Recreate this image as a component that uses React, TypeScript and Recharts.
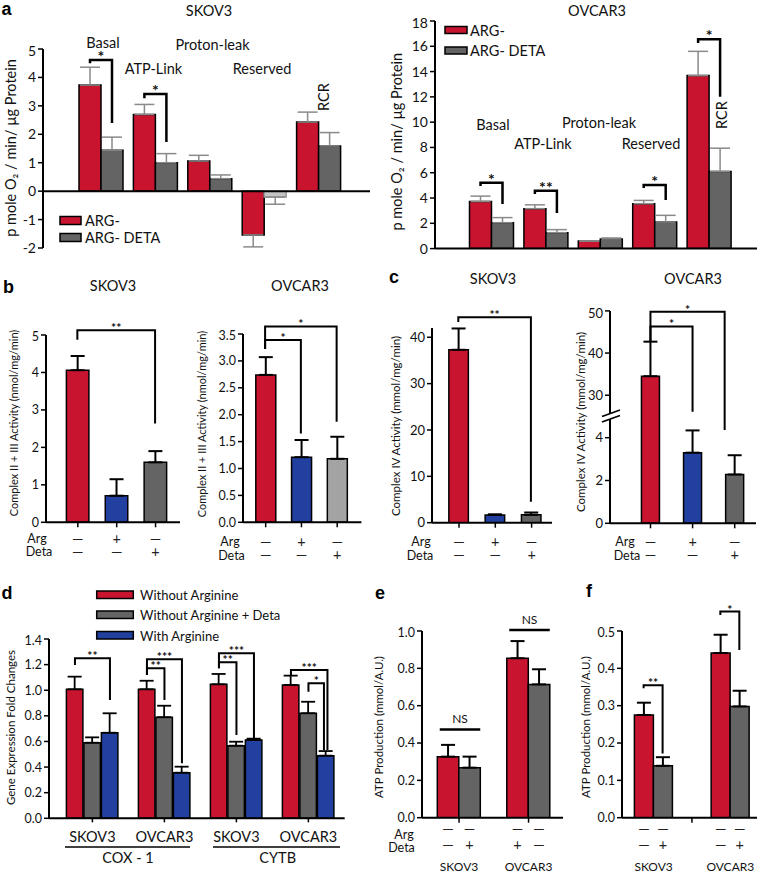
import React from 'react';
import { BarChart, Bar, XAxis, YAxis, ErrorBar, ReferenceLine, Cell } from 'recharts';

const FONT = 'Lato, "Open Sans", sans-serif';
const RED = '#C8142F';
const GRAY = '#646464';
const LIGHT = '#A3A3A3';
const BLUE = '#2140A0';
const INK = '#111';

// a: oxygen consumption rates
const aCategories = ['Basal', 'ATP-Link', 'Proton-leak', 'Reserved', 'RCR'];
const aSkovArg = [3.73, 2.7, 1.06, -1.54, 2.43];
const aSkovArgErr = [0.63, 0.35, 0.2, 0.42, 0.35];
const aSkovDeta = [1.44, 1.0, 0.44, -0.21, 1.59];
const aSkovDetaErr = [0.46, 0.32, 0.13, 0.25, 0.47];
const aOvcarArg = [3.73, 3.16, 0.6, 3.55, 13.68];
const aOvcarArgErr = [0.42, 0.3, 0, 0.26, 1.92];
const aOvcarDeta = [2.05, 1.26, 0.76, 2.1, 6.1];
const aOvcarDetaErr = [0.4, 0.24, 0.08, 0.53, 1.84];

// b, c: complex activities (Arg-, Arg+, Deta+)
const treatments = ['Arg-', 'Arg+', 'Deta'];
const argSigns = ['—', '+', '—'];
const detaSigns = ['—', '—', '+'];
const bSkov = [4.06, 0.71, 1.6];
const bSkovErr = [0.38, 0.44, 0.3];
const bOvcar = [2.74, 1.21, 1.18];
const bOvcarErr = [0.33, 0.32, 0.41];
const cSkov = [37.3, 1.66, 1.7];
const cSkovErr = [4.6, 0.15, 0.5];
const cOvcar = [34.5, 3.3, 2.28];
const cOvcarErr = [8.2, 1.04, 0.9];
const cOvcarTicks = [0, 2, 4, 30, 40, 50];

// d: gene expression
const dCategories = ['SKOV3', 'OVCAR3', 'SKOV3', 'OVCAR3'];
const dWithout = [1.007, 1.007, 1.046, 1.041];
const dWithoutErr = [0.099, 0.067, 0.081, 0.073];
const dDeta = [0.59, 0.789, 0.567, 0.82];
const dDetaErr = [0.042, 0.09, 0.031, 0.09];
const dWith = [0.668, 0.356, 0.611, 0.489];
const dWithErr = [0.152, 0.047, 0.011, 0.036];

// e: ATP production
const eCategories = ['SKOV3', 'OVCAR3'];
const eFirst = [0.327, 0.854];
const eFirstErr = [0.063, 0.092];
const eSecond = [0.268, 0.714];
const eSecondErr = [0.059, 0.081];
const eArgRow = [['—', '—'], ['—', '—']];
const eDetaRow = [['—', '+'], ['+', '—']];

// f: ATP production
const fCategories = ['SKOV3', '', 'OVCAR3'];
const fFirst = [0.275, null, 0.441];
const fFirstErr = [0.033, null, 0.049];
const fSecond = [0.139, null, 0.298];
const fSecondErr = [0.023, null, 0.042];
const fArgRow = [['—', '—'], [], ['—', '—']];
const fDetaRow = [['—', '+'], [], ['—', '+']];

type Geo = {
  x0: number; x1: number; padL: number; padR: number; min: number; max: number;
  top: number; bot: number; n: number; bars: number; barSize: number; barGap: number; xh: number; yw: number;
};

const MT = 6;
const gAL: Geo = { x0: 43, x1: 370, padL: 31, padR: 24, min: -2, max: 5, top: 49, bot: 248, n: 5, bars: 2, barSize: 22, barGap: 0, xh: 12, yw: 30 };
const gAR: Geo = { x0: 435, x1: 757, padL: 29.5, padR: 20.5, min: 0, max: 18, top: 20.7, bot: 248.3, n: 5, bars: 2, barSize: 22, barGap: 0, xh: 12, yw: 30 };
const gBL: Geo = { x0: 45.7, x1: 180, padL: 12.4, padR: 5.3, min: 0, max: 5, top: 335, bot: 522.3, n: 3, bars: 1, barSize: 22.5, barGap: 0, xh: 45, yw: 30 };
const gBR: Geo = { x0: 243.3, x1: 361.7, padL: 4.8, padR: 6.3, min: 0, max: 3.5, top: 334, bot: 522.3, n: 3, bars: 1, barSize: 20, barGap: 0, xh: 45, yw: 30 };
const gCL: Geo = { x0: 431.7, x1: 551.7, padL: 8.85, padR: 2.25, min: 0, max: 42, top: 328, bot: 522.7, n: 3, bars: 1, barSize: 19.5, barGap: 0, xh: 45, yw: 30 };
const gCR: Geo = { x0: 610, x1: 756, padL: 19.45, padR: 0.25, min: 0, max: 9.92, top: 311, bot: 523.3, n: 3, bars: 1, barSize: 18, barGap: 0, xh: 45, yw: 30 };
const gD: Geo = { x0: 49.3, x1: 345, padL: 7.4, padR: 0.3, min: 0, max: 1.4, top: 639, bot: 818.3, n: 4, bars: 3, barSize: 16.5, barGap: 1, xh: 25, yw: 30 };
const gE: Geo = { x0: 421.7, x1: 563, padL: 2.3, padR: 0, min: 0, max: 1, top: 631, bot: 817.7, n: 2, bars: 2, barSize: 21.5, barGap: 0, xh: 60, yw: 30 };
const gF: Geo = { x0: 621.7, x1: 756.7, padL: 12.4, padR: 7.5, min: 0, max: 0.5, top: 631, bot: 817.7, n: 3, bars: 2, barSize: 19, barGap: 0, xh: 60, yw: 30 };

const band = (g: Geo) => (g.x1 - g.x0 - g.padL - g.padR) / g.n;
const barCx = (g: Geo, i: number, j: number) => {
  const b = band(g);
  const sum = g.bars * g.barSize + (g.bars - 1) * g.barGap;
  const off = Math.trunc((b - sum) / 2);
  return g.x0 + g.padL + i * b + off + j * (g.barSize + g.barGap) + g.barSize / 2;
};
const yPx = (g: Geo, v: number) => g.bot - ((v - g.min) / (g.max - g.min)) * (g.bot - g.top);
const boxLeft = (g: Geo) => g.x0 - g.yw;

// broken axis of c / OVCAR3: 0-5 linear, 25-50 compressed
const brk = (v: number) => (v <= 5 ? v : 5 + (v - 25) * 0.197);

const up = (v: number | null, e: number | null) => (v == null || e == null ? undefined : v < 0 ? [e, 0] : [0, e]);

const aSkovData = aCategories.map((name, i) => ({
  name, v0: aSkovArg[i], e0: up(aSkovArg[i], aSkovArgErr[i]), v1: aSkovDeta[i], e1: up(aSkovDeta[i], aSkovDetaErr[i]),
}));
const aOvcarData = aCategories.map((name, i) => ({
  name, v0: aOvcarArg[i], e0: up(aOvcarArg[i], aOvcarArgErr[i]), v1: aOvcarDeta[i], e1: up(aOvcarDeta[i], aOvcarDetaErr[i]),
}));
const single = (vals: number[], errs: number[], f = (v: number) => v) =>
  treatments.map((name, i) => ({ name, v0: f(vals[i]), e0: [0, f(vals[i] + errs[i]) - f(vals[i])] }));
const bSkovData = single(bSkov, bSkovErr);
const bOvcarData = single(bOvcar, bOvcarErr);
const cSkovData = single(cSkov, cSkovErr);
const cOvcarData = single(cOvcar, cOvcarErr, brk);
const dData = dCategories.map((name, i) => ({
  name, v0: dWithout[i], e0: up(dWithout[i], dWithoutErr[i]), v1: dDeta[i], e1: up(dDeta[i], dDetaErr[i]), v2: dWith[i], e2: up(dWith[i], dWithErr[i]),
}));
const eData = eCategories.map((name, i) => ({
  name, v0: eFirst[i], e0: up(eFirst[i], eFirstErr[i]), v1: eSecond[i], e1: up(eSecond[i], eSecondErr[i]),
}));
const fData = fCategories.map((name, i) => ({
  name, v0: fFirst[i], e0: up(fFirst[i], fFirstErr[i]), v1: fSecond[i], e1: up(fSecond[i], fSecondErr[i]),
}));

const axisStyle = { stroke: '#000', strokeWidth: 2 };

function Frame(props: {
  g: Geo; data: any[]; ticks: number[]; fmt?: (v: number) => string; fs?: number;
  xTick?: any; xLine?: boolean; zero?: boolean; children: React.ReactNode;
}) {
  const { g, data, ticks, fmt, fs = 12.5, xTick, xLine, zero, children } = props;
  const left = boxLeft(g);
  const width = g.x1 - left;
  const height = MT + (g.bot - g.top) + g.xh;
  return (
    <div style={{ position: 'absolute', left, top: g.top - MT, width, height }}>
      <BarChart width={width} height={height} data={data} barGap={g.barGap}
        margin={{ top: MT, right: 0, bottom: 0, left: 0 }}>
        <XAxis dataKey="name" height={g.xh} padding={{ left: g.padL, right: g.padR }} interval={0}
          axisLine={xLine ? axisStyle : false} tickLine={false} tick={xTick ?? false} />
        <YAxis type="number" width={g.yw} domain={[g.min, g.max]} ticks={ticks} allowDataOverflow
          tickFormatter={fmt} axisLine={axisStyle} tickLine={{ stroke: '#000', strokeWidth: 1.5 }} tickSize={5}
          tick={{ fill: INK, fontSize: fs, fontFamily: FONT }} />
        {zero ? <ReferenceLine y={0} stroke="#000" strokeWidth={2} /> : null}
        {children}
      </BarChart>
    </div>
  );
}

function signTick(g: Geo, rows: string[][], dy: number[]) {
  const base = MT + (g.bot - g.top);
  return (p: any) => (
    <g>
      <line x1={p.x} x2={p.x} y1={base} y2={base + 5} stroke="#000" strokeWidth={1.5} />
      {rows.map((r, k) => (
        <text key={k} x={p.x} y={base + dy[k]} textAnchor="middle" dominantBaseline="central"
          fontSize={14.5} fontFamily={FONT} fill="#222">{r[p.index]}</text>
      ))}
    </g>
  );
}

function pairTick(g: Geo, rows: string[][][], names: string[], dy: number[], marks: boolean[]) {
  const base = MT + (g.bot - g.top);
  const left = boxLeft(g);
  return (p: any) => (
    <g>
      {marks[p.index] ? <line x1={p.x} x2={p.x} y1={base} y2={base + 5} stroke="#000" strokeWidth={1.5} /> : null}
      {rows.map((r, k) => (r[p.index] || []).map((s, j) => (
        <text key={`${k}-${j}`} x={barCx(g, p.index, j) - left} y={base + dy[k]} textAnchor="middle"
          dominantBaseline="central" fontSize={14.5} fontFamily={FONT} fill="#222">{s}</text>
      )))}
      {names[p.index] ? (
        <text x={p.x} y={base + dy[2]} textAnchor="middle" dominantBaseline="central" fontSize={12}
          fontFamily={FONT} fill={INK}>{names[p.index]}</text>
      ) : null}
    </g>
  );
}

function nameTick(g: Geo) {
  const base = MT + (g.bot - g.top);
  return (p: any) => (
    <g>
      <line x1={p.x} x2={p.x} y1={base} y2={base + 4} stroke="#000" strokeWidth={1.5} />
      <text x={p.x} y={base + 18} textAnchor="middle" dominantBaseline="central" fontSize={14.5}
        fontFamily={FONT} fill={INK}>{dCategories[p.index]}</text>
    </g>
  );
}

const bars = (g: Geo, fills: string[], errColor: string, capW: number, errW: number, cells?: (i: number) => any) =>
  fills.map((fill, j) => (
    <Bar key={j} dataKey={`v${j}`} fill={fill} stroke="#000" strokeWidth={1.5} barSize={g.barSize} isAnimationActive={false}>
      {cells ? cells(j) : null}
      <ErrorBar dataKey={`e${j}`} width={capW} stroke={errColor} strokeWidth={errW} direction="y" />
    </Bar>
  ));

const singleBars = (g: Geo, data: any[], colors: string[]) => (
  <Bar dataKey="v0" stroke="#000" strokeWidth={1.5} barSize={g.barSize} isAnimationActive={false}>
    {data.map((_, i) => <Cell key={i} fill={colors[i]} />)}
    <ErrorBar dataKey="e0" width={7} stroke="#000" strokeWidth={2} direction="y" />
  </Bar>
);

type Br = { from: [number, number]; to: [number, number]; top: number; left: number; right: number; label: string; dx?: number };

function Brackets({ g, list, fs, sw, f = (v: number) => v }: { g: Geo; list: Br[]; fs: number; sw: number; f?: (v: number) => number }) {
  return (
    <g>
      {list.map((b, k) => {
        const x1 = barCx(g, b.from[0], b.from[1]);
        const x2 = barCx(g, b.to[0], b.to[1]) + (b.dx ?? 0);
        const yt = yPx(g, f(b.top));
        const yl = yPx(g, f(b.left));
        const yr = yPx(g, f(b.right));
        return (
          <g key={k}>
            <polyline points={`${x1},${yl} ${x1},${yt} ${x2},${yt} ${x2},${yr}`} fill="none" stroke="#000" strokeWidth={sw} />
            <text x={(x1 + x2) / 2} y={yt + 2} textAnchor="middle" fontSize={fs} fontWeight={700} fontFamily={FONT} fill={INK}>{b.label}</text>
          </g>
        );
      })}
    </g>
  );
}

const aSkovBr: Br[] = [
  { from: [0, 0], to: [0, 1], top: 4.61, left: 4.5, right: 2.4, label: '*' },
  { from: [1, 0], to: [1, 1], top: 3.42, left: 3.27, right: 1.73, label: '*' },
];
const aOvcarBr: Br[] = [
  { from: [0, 0], to: [0, 1], top: 5.19, left: 4.93, right: 3.5, label: '*' },
  { from: [1, 0], to: [1, 1], top: 4.56, left: 4.3, right: 2.79, label: '**' },
  { from: [3, 0], to: [3, 1], top: 5.0, left: 4.77, right: 3.82, label: '*' },
  { from: [4, 0], to: [4, 1], top: 16.53, left: 16.24, right: 11.99, label: '*' },
];
const bSkovBr: Br[] = [{ from: [0, 0], to: [2, 0], top: 5.13, left: 4.87, right: 2.64, label: '**' }];
const bOvcarBr: Br[] = [
  { from: [0, 0], to: [2, 0], top: 3.64, left: 3.22, right: 1.87, label: '*' },
  { from: [0, 0], to: [1, 0], top: 3.39, left: 3.22, right: 1.65, label: '*' },
];
const cSkovBr: Br[] = [{ from: [0, 0], to: [2, 0], top: 44.3, left: 43.3, right: 4.5, label: '**' }];
const cOvcarBr: Br[] = [
  { from: [0, 0], to: [2, 0], top: 49.8, left: 42.7, right: 4.36, label: '*', dx: -10 },
  { from: [0, 0], to: [1, 0], top: 46.3, left: 42.7, right: 26.1, label: '*' },
];
const dBr: Br[] = [
  { from: [0, 0], to: [0, 2], top: 1.249, left: 1.197, right: 0.924, label: '**' },
  { from: [1, 0], to: [1, 2], top: 1.241, left: 1.119, right: 0.429, label: '***' },
  { from: [1, 0], to: [1, 1], top: 1.171, left: 1.119, right: 0.924, label: '**' },
  { from: [2, 0], to: [2, 2], top: 1.288, left: 1.171, right: 0.625, label: '***' },
  { from: [2, 0], to: [2, 1], top: 1.218, left: 1.171, right: 0.65, label: '**' },
  { from: [3, 0], to: [3, 2], top: 1.158, left: 1.119, right: 0.533, label: '***', dx: 1.5 },
  { from: [3, 1], to: [3, 2], top: 1.054, left: 0.988, right: 0.533, label: '*', dx: -2 },
];
const fBr: Br[] = [
  { from: [0, 0], to: [0, 1], top: 0.355, left: 0.347, right: 0.172, label: '**' },
  { from: [2, 0], to: [2, 1], top: 0.552, left: 0.543, right: 0.449, label: '*' },
];
const eNS = [0.473, 1.005];

function T({ x, y, s = 13, a = 'middle', w = 400, r = false, children }: any) {
  return (
    <text x={x} y={y} fontSize={s} textAnchor={a} fontWeight={w} dominantBaseline="central" fill={INK}
      fontFamily={FONT} transform={r ? `rotate(-90 ${x} ${y})` : undefined}>{children}</text>
  );
}
function L({ x, y, children }: any) {
  return <text x={x} y={y} fontSize={18} fontWeight={700} fontFamily="Arial, 'Liberation Sans', sans-serif" fill="#000">{children}</text>;
}

const fmt1 = (v: number) => v.toFixed(1);

export default function App() {
  const aLabelPos = [[103, 42], [153.5, 68], [212.5, 44], [262, 68], [323, 97]];
  const aRLabelPos = [[493, 124], [543, 143.3], [599, 122.7], [651, 143.3], [721.7, 115]];
  return (
    <div style={{ position: 'absolute', left: 0, top: 0, width: 757, height: 873, background: '#fff', fontFamily: FONT, overflow: 'hidden' }}>
      <Frame g={gAL} data={aSkovData} ticks={[-2, -1, 0, 1, 2, 3, 4, 5]} fs={14} zero>
        {bars(gAL, [RED, GRAY], '#8a8a8a', 10, 1.5, (j) =>
          j === 1 ? aSkovData.map((_, i) => <Cell key={i} fill={i === 3 ? '#C4C4C4' : GRAY} stroke={i === 3 ? '#999' : '#000'} />) : null)}
      </Frame>
      <Frame g={gAR} data={aOvcarData} ticks={[0, 2, 4, 6, 8, 10, 12, 14, 16, 18]} fs={14} zero>
        {bars(gAR, [RED, GRAY], '#8a8a8a', 10, 1.5)}
      </Frame>
      <Frame g={gBL} data={bSkovData} ticks={[0, 1, 2, 3, 4, 5]} xLine xTick={signTick(gBL, [argSigns, detaSigns], [16, 29.5])}>
        {singleBars(gBL, bSkovData, [RED, BLUE, GRAY])}
      </Frame>
      <Frame g={gBR} data={bOvcarData} ticks={[0, 0.5, 1, 1.5, 2, 2.5, 3, 3.5]} fmt={fmt1} xLine
        xTick={signTick(gBR, [argSigns, detaSigns], [19.4, 32.7])}>
        {singleBars(gBR, bOvcarData, [RED, BLUE, LIGHT])}
      </Frame>
      <Frame g={gCL} data={cSkovData} ticks={[0, 10, 20, 30, 40]} fs={13} xLine
        xTick={signTick(gCL, [argSigns, detaSigns], [19, 32.3])}>
        {singleBars(gCL, cSkovData, [RED, BLUE, GRAY])}
      </Frame>
      <Frame g={gCR} data={cOvcarData} ticks={cOvcarTicks.map(brk)} fs={13} xLine
        fmt={(t: number) => String(cOvcarTicks.find((r) => Math.abs(brk(r) - t) < 1e-6) ?? '')}
        xTick={signTick(gCR, [argSigns, detaSigns], [18.4, 31.7])}>
        {singleBars(gCR, cOvcarData, [RED, BLUE, GRAY])}
      </Frame>
      <Frame g={gD} data={dData} ticks={[0, 0.2, 0.4, 0.6, 0.8, 1, 1.2, 1.4]} fmt={fmt1} xLine xTick={nameTick(gD)}>
        {bars(gD, [RED, GRAY, BLUE], '#000', 7, 1.8)}
      </Frame>
      <Frame g={gE} data={eData} ticks={[0, 0.2, 0.4, 0.6, 0.8, 1]} fmt={fmt1} xLine
        xTick={pairTick(gE, [eArgRow, eDetaRow], eCategories, [10.6, 27.3, 49], [true, true])}>
        {bars(gE, [RED, GRAY], '#000', 7, 2)}
      </Frame>
      <Frame g={gF} data={fData} ticks={[0, 0.1, 0.2, 0.3, 0.4, 0.5]} fmt={fmt1} xLine
        xTick={pairTick(gF, [fArgRow, fDetaRow], fCategories, [11, 27, 49], [false, true, false])}>
        {bars(gF, [RED, GRAY], '#000', 7, 2)}
      </Frame>

      <svg width={757} height={873} style={{ position: 'absolute', left: 0, top: 0, pointerEvents: 'none' }}>
        <L x={1.5} y={15}>a</L>
        <L x={3} y={293}>b</L>
        <L x={389} y={283}>c</L>
        <L x={1.5} y={599}>d</L>
        <L x={375} y={599}>e</L>
        <L x={586} y={596.7}>f</L>

        {/* a */}
        <T x={209} y={10} s={14.5}>SKOV3</T>
        <T x={597} y={10} s={14.5}>OVCAR3</T>
        {aCategories.map((c, i) => (
          <T key={c} x={aLabelPos[i][0]} y={aLabelPos[i][1]} s={14.5} r={i === 4}>{c}</T>
        ))}
        {aCategories.map((c, i) => (
          <T key={`r${c}`} x={aRLabelPos[i][0]} y={aRLabelPos[i][1]} s={14.5} r={i === 4}>{c}</T>
        ))}
        <T x={10} y={148} s={14.5} r>p mole O₂ / min/ µg Protein</T>
        <T x={396.7} y={141.7} s={14.5} r>p mole O₂ / min/ µg Protein</T>
        <rect x={60} y={216.5} width={21} height={8} fill={RED} stroke="#000" strokeWidth={1.5} />
        <rect x={60} y={233.5} width={21} height={8} fill={GRAY} stroke="#000" strokeWidth={1.5} />
        <T x={85} y={220.5} s={14.5} a="start">ARG-</T>
        <T x={85} y={237.5} s={14.5} a="start">ARG- DETA</T>
        <rect x={445} y={26.5} width={22} height={7} fill={RED} stroke="#000" strokeWidth={1.5} />
        <rect x={445} y={47} width={22} height={7} fill={GRAY} stroke="#000" strokeWidth={1.5} />
        <T x={470} y={30} s={14.5} a="start">ARG-</T>
        <T x={470} y={50.5} s={14.5} a="start">ARG- DETA</T>
        <Brackets g={gAL} list={aSkovBr} fs={16} sw={2.5} />
        <Brackets g={gAR} list={aOvcarBr} fs={16} sw={2.5} />

        {/* b, c */}
        <T x={113} y={285} s={14.5}>SKOV3</T>
        <T x={300} y={285} s={14.5}>OVCAR3</T>
        <T x={493} y={278} s={14.5}>SKOV3</T>
        <T x={693} y={278} s={14.5}>OVCAR3</T>
        <T x={13.3} y={423} s={11} r>Complex II + III Activity (nmol/mg/min)</T>
        <T x={201} y={424} s={11} r>Complex II + III Activity (nmol/mg/min)</T>
        <T x={395} y={426} s={11.5} r>Complex IV Activity (mmol/mg/min)</T>
        <T x={580} y={422} s={11.5} r>Complex IV Activity (mmol/mg/min)</T>
        <T x={37} y={538.3} s={12.5}>Arg</T>
        <T x={39} y={551.7} s={12.5}>Deta</T>
        <T x={230} y={541.7} s={12.5}>Arg</T>
        <T x={231.5} y={555} s={12.5}>Deta</T>
        <T x={421} y={541.7} s={12.5}>Arg</T>
        <T x={420} y={555} s={12.5}>Deta</T>
        <T x={625} y={541.7} s={12.5}>Arg</T>
        <T x={627} y={555} s={12.5}>Deta</T>
        <Brackets g={gBL} list={bSkovBr} fs={12} sw={2} />
        <Brackets g={gBR} list={bOvcarBr} fs={12} sw={2} />
        <Brackets g={gCL} list={cSkovBr} fs={12} sw={2} />
        <Brackets g={gCR} list={cOvcarBr} fs={12} sw={2} f={brk} />
        <polygon points="602,416.5 620,410 620,415.5 602,422" fill="#fff" />
        <line x1={602} y1={416.5} x2={620} y2={410} stroke="#000" strokeWidth={1.8} />
        <line x1={602} y1={422} x2={620} y2={415.5} stroke="#000" strokeWidth={1.8} />

        {/* d */}
        <rect x={96.7} y={591} width={36.6} height={7.5} fill={RED} stroke="#000" strokeWidth={1.5} />
        <rect x={96.7} y={611} width={36.6} height={7.5} fill={GRAY} stroke="#000" strokeWidth={1.5} />
        <rect x={96.7} y={631.5} width={36.6} height={7.5} fill={BLUE} stroke="#000" strokeWidth={1.5} />
        <T x={140} y={595} s={13} a="start">Without Arginine</T>
        <T x={140} y={615} s={13} a="start">Without Arginine + Deta</T>
        <T x={140} y={635.5} s={13} a="start">With Arginine</T>
        <T x={10} y={727.5} s={11.5} r>Gene Expression Fold Changes</T>
        <Brackets g={gD} list={dBr} fs={12} sw={2} />
        <line x1={65} y1={847} x2={190} y2={847} stroke="#000" strokeWidth={1.5} />
        <line x1={213} y1={847} x2={340} y2={847} stroke="#000" strokeWidth={1.5} />
        <T x={128} y={857} s={14.5}>COX - 1</T>
        <T x={277.7} y={857} s={14.5}>CYTB</T>

        {/* e, f */}
        <T x={378} y={727} s={11.5} r>ATP Production (mmol/A.U.)</T>
        <T x={585} y={727} s={11.5} r>ATP Production (mmol/A.U.)</T>
        <T x={404} y={834} s={12.5}>Arg</T>
        <T x={401.5} y={847} s={12.5}>Deta</T>
        {eNS.map((v, i) => {
          const x1 = barCx(gE, i, 0) - 8;
          const x2 = barCx(gE, i, 1) + 11;
          const y = yPx(gE, v);
          return (
            <g key={i}>
              <line x1={x1} y1={y} x2={x2} y2={y} stroke="#000" strokeWidth={2.5} />
              <T x={(x1 + x2) / 2} y={y - 11} s={12}>NS</T>
            </g>
          );
        })}
        <Brackets g={gF} list={fBr} fs={12} sw={2} />
      </svg>
    </div>
  );
}
